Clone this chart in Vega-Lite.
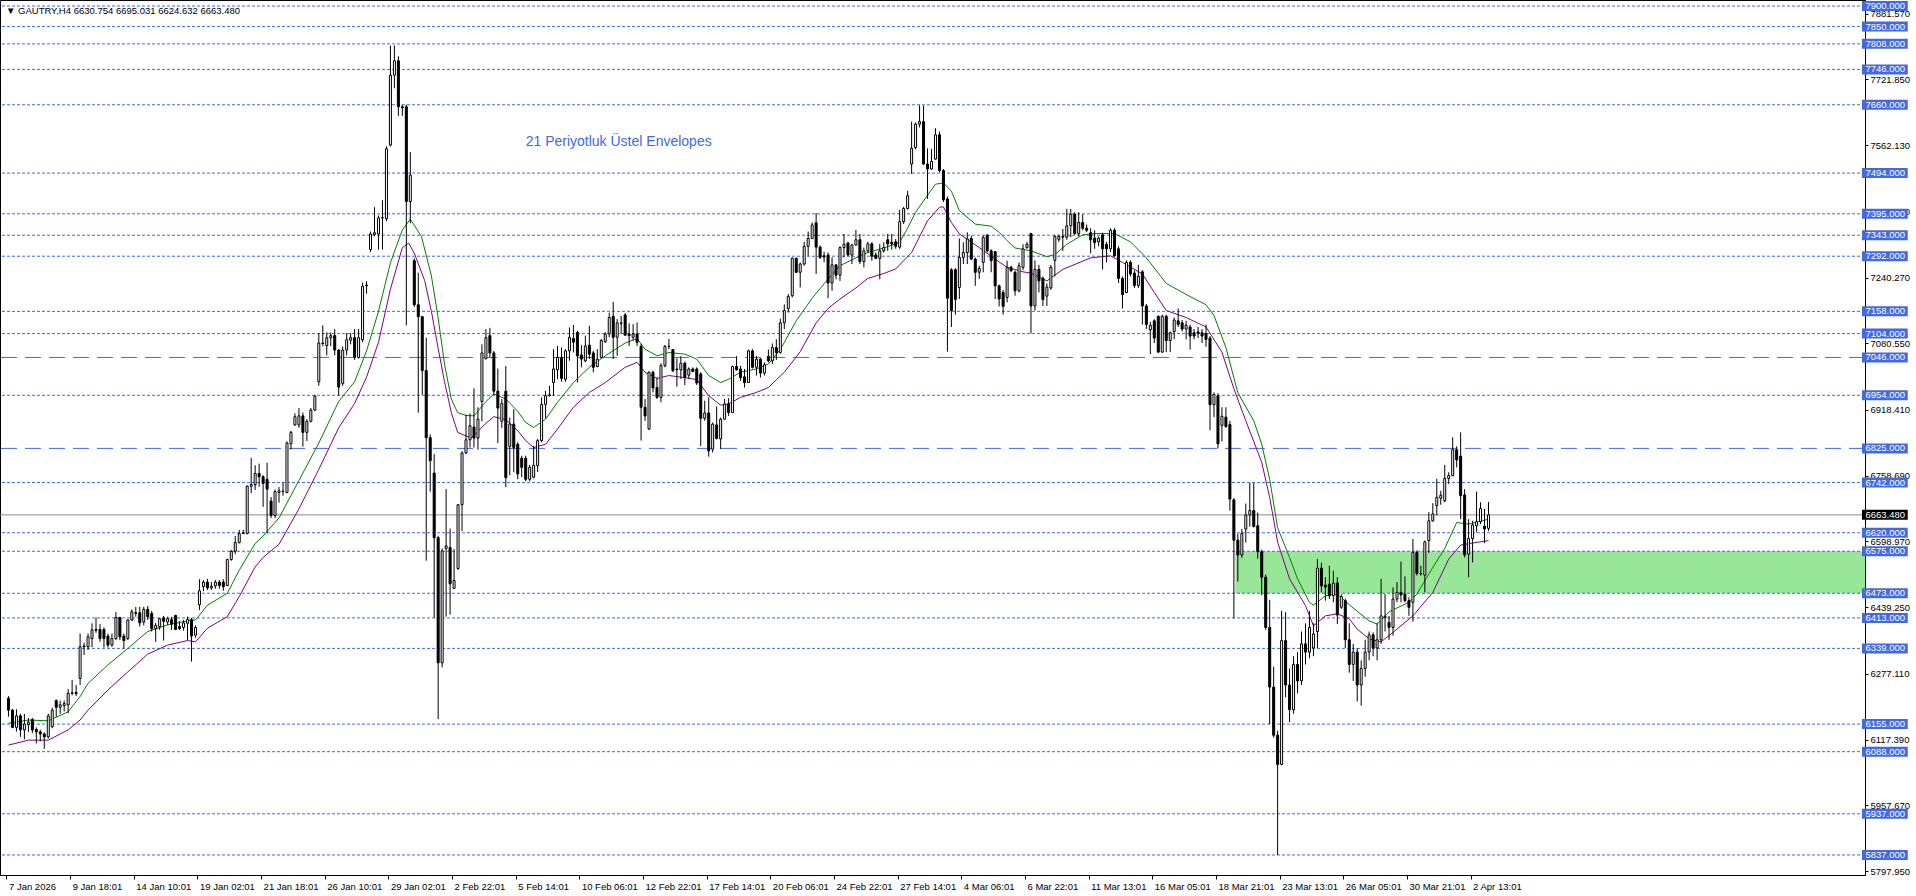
{
"$schema":"https://vega.github.io/schema/vega-lite/v6.json",
"width":1865,"height":875,
"autosize":{"type":"none"},
"padding":{"left":0,"top":0,"right":51,"bottom":21},
"background":"white",
"title":{"text":"▼ GAUTRY,H4  6630.754 6695.031 6624.632 6663.480","anchor":"start","frame":"group","offset":-15,"dx":6,"font":"Liberation Sans","fontSize":9.5,"fontWeight":"normal","color":"black"},
"config":{"view":{"stroke":"black","strokeWidth":1}},
"datasets":{
"zone":[{"i1":308.375,"i2":470,"p1":6473,"p2":6575}],
"levels":[{"p":7900},{"p":7850},{"p":7808},{"p":7746},{"p":7660},{"p":7494},{"p":7395},{"p":7343},{"p":7292},{"p":7158},{"p":7104},{"p":7046},{"p":6954},{"p":6825},{"p":6742},{"p":6620},{"p":6575},{"p":6473},{"p":6413},{"p":6339},{"p":6155},{"p":6088},{"p":5937},{"p":5837}],
"last":[{"p":6663.48}],
"note":[{"i":130,"p":7570,"t":"21 Periyotluk Üstel Envelopes"}],
"upper":[{"i":0,"v":6157},{"i":5,"v":6165},{"i":10,"v":6163},{"i":15,"v":6185},{"i":18,"v":6222},{"i":20,"v":6254},{"i":25,"v":6299},{"i":30,"v":6339},{"i":35,"v":6380},{"i":40,"v":6396},{"i":45,"v":6406},{"i":47,"v":6408},{"i":50,"v":6444},{"i":55,"v":6473},{"i":58,"v":6529},{"i":62,"v":6594},{"i":64,"v":6612},{"i":68,"v":6656},{"i":73,"v":6747},{"i":78,"v":6838},{"i":83,"v":6939},{"i":87,"v":6987},{"i":90,"v":7062},{"i":93,"v":7158},{"i":96,"v":7276},{"i":99,"v":7356},{"i":101,"v":7382},{"i":103.8,"v":7340},{"i":106.3,"v":7244},{"i":107.9,"v":7148},{"i":109.6,"v":7030},{"i":111.3,"v":6945},{"i":112.9,"v":6912},{"i":115,"v":6905},{"i":117,"v":6904},{"i":120,"v":6939},{"i":122,"v":6957},{"i":125,"v":6945},{"i":128,"v":6915},{"i":130,"v":6888},{"i":132,"v":6876},{"i":135,"v":6896},{"i":138,"v":6937},{"i":142,"v":6985},{"i":146,"v":7022},{"i":150,"v":7050},{"i":155,"v":7081},{"i":158,"v":7092},{"i":160,"v":7066},{"i":163,"v":7050},{"i":166,"v":7058},{"i":170,"v":7054},{"i":173,"v":7042},{"i":176,"v":7002},{"i":179,"v":6985},{"i":181,"v":6993},{"i":184,"v":7010},{"i":188,"v":7018},{"i":191,"v":7030},{"i":194,"v":7065},{"i":198,"v":7135},{"i":202,"v":7190},{"i":205,"v":7225},{"i":209,"v":7269},{"i":213,"v":7288},{"i":216,"v":7301},{"i":220,"v":7312},{"i":224,"v":7326},{"i":226,"v":7360},{"i":228,"v":7399},{"i":231,"v":7440},{"i":233,"v":7467},{"i":235,"v":7470},{"i":237,"v":7450},{"i":239,"v":7403},{"i":243,"v":7370},{"i":247,"v":7365},{"i":249,"v":7350},{"i":251,"v":7330},{"i":253,"v":7312},{"i":257,"v":7305},{"i":261,"v":7291},{"i":263,"v":7296},{"i":266,"v":7321},{"i":270,"v":7344},{"i":273,"v":7347},{"i":278,"v":7347},{"i":282,"v":7327},{"i":286,"v":7288},{"i":291,"v":7226},{"i":296,"v":7199},{"i":301,"v":7174},{"i":303,"v":7148},{"i":306,"v":7070},{"i":309,"v":6960},{"i":313,"v":6892},{"i":315,"v":6835},{"i":317,"v":6750},{"i":319,"v":6632},{"i":322,"v":6560},{"i":324,"v":6508},{"i":327,"v":6451},{"i":328,"v":6444},{"i":331,"v":6467},{"i":334,"v":6471},{"i":337,"v":6445},{"i":342,"v":6406},{"i":344,"v":6398},{"i":347,"v":6428},{"i":352,"v":6451},{"i":354,"v":6471},{"i":357,"v":6520},{"i":361,"v":6582},{"i":364,"v":6645},{"i":367,"v":6641},{"i":372,"v":6653}],
"lower":[{"i":0,"v":6104},{"i":5,"v":6116},{"i":10,"v":6116},{"i":15,"v":6141},{"i":18,"v":6165},{"i":20,"v":6189},{"i":25,"v":6238},{"i":30,"v":6282},{"i":35,"v":6325},{"i":40,"v":6347},{"i":45,"v":6358},{"i":47,"v":6355},{"i":50,"v":6388},{"i":55,"v":6416},{"i":58,"v":6465},{"i":62,"v":6537},{"i":64,"v":6560},{"i":68,"v":6592},{"i":73,"v":6678},{"i":78,"v":6774},{"i":83,"v":6875},{"i":87,"v":6934},{"i":90,"v":6998},{"i":93,"v":7083},{"i":96,"v":7212},{"i":99,"v":7313},{"i":100.6,"v":7324},{"i":102.1,"v":7297},{"i":104.6,"v":7233},{"i":106.3,"v":7158},{"i":107.9,"v":7073},{"i":109.6,"v":6987},{"i":111.3,"v":6912},{"i":112.9,"v":6864},{"i":116.3,"v":6850},{"i":120,"v":6886},{"i":122,"v":6902},{"i":125,"v":6895},{"i":128,"v":6868},{"i":130,"v":6844},{"i":132,"v":6827},{"i":135,"v":6835},{"i":138,"v":6872},{"i":142,"v":6925},{"i":146,"v":6961},{"i":150,"v":6985},{"i":155,"v":7022},{"i":158,"v":7034},{"i":160,"v":7010},{"i":163,"v":6995},{"i":166,"v":7002},{"i":170,"v":6997},{"i":173,"v":6992},{"i":176,"v":6953},{"i":179,"v":6930},{"i":181,"v":6933},{"i":184,"v":6949},{"i":188,"v":6961},{"i":191,"v":6973},{"i":195,"v":7010},{"i":199,"v":7060},{"i":203,"v":7130},{"i":206,"v":7165},{"i":209,"v":7188},{"i":213,"v":7215},{"i":216,"v":7238},{"i":220,"v":7250},{"i":223,"v":7261},{"i":227,"v":7301},{"i":231,"v":7378},{"i":234,"v":7411},{"i":235,"v":7412},{"i":237,"v":7374},{"i":239,"v":7346},{"i":244,"v":7313},{"i":248,"v":7285},{"i":251,"v":7265},{"i":255,"v":7254},{"i":257,"v":7251},{"i":261,"v":7232},{"i":265,"v":7260},{"i":272,"v":7288},{"i":277,"v":7293},{"i":280,"v":7277},{"i":285,"v":7249},{"i":288,"v":7204},{"i":291,"v":7160},{"i":296,"v":7143},{"i":301,"v":7120},{"i":305,"v":7059},{"i":308,"v":6970},{"i":311,"v":6892},{"i":315,"v":6791},{"i":317,"v":6706},{"i":319,"v":6597},{"i":322,"v":6508},{"i":326,"v":6443},{"i":328,"v":6394},{"i":331,"v":6418},{"i":334,"v":6423},{"i":337,"v":6411},{"i":339,"v":6386},{"i":342,"v":6362},{"i":345,"v":6355},{"i":348,"v":6378},{"i":353,"v":6418},{"i":358,"v":6475},{"i":362,"v":6556},{"i":365,"v":6590},{"i":368,"v":6595},{"i":372,"v":6601}],
"bars":[
{"i":0,"o":6218,"h":6223,"l":6173,"c":6189},{"i":1,"o":6189,"h":6192,"l":6145,"c":6147},{"i":2,"o":6147,"h":6191,"l":6137,"c":6175},{"i":3,"o":6175,"h":6180,"l":6124,"c":6141},{"i":4,"o":6141,"h":6180,"l":6118,"c":6155},{"i":5,"o":6154,"h":6170,"l":6136,"c":6160},{"i":6,"o":6166,"h":6170,"l":6133,"c":6141},{"i":7,"o":6142,"h":6147,"l":6108,"c":6136},{"i":8,"o":6136,"h":6141,"l":6113,"c":6131},{"i":9,"o":6131,"h":6135,"l":6095,"c":6124},
{"i":10,"o":6124,"h":6180,"l":6120,"c":6175},{"i":11,"o":6149,"h":6195,"l":6145,"c":6189},{"i":12,"o":6212,"h":6215,"l":6173,"c":6196},{"i":13,"o":6196,"h":6212,"l":6180,"c":6202},{"i":14,"o":6200,"h":6212,"l":6186,"c":6205},{"i":15,"o":6202,"h":6240,"l":6181,"c":6230},{"i":16,"o":6230,"h":6262,"l":6225,"c":6231},{"i":17,"o":6232,"h":6250,"l":6223,"c":6229},{"i":18,"o":6266,"h":6375,"l":6250,"c":6343},{"i":19,"o":6343,"h":6353,"l":6323,"c":6345},
{"i":20,"o":6343,"h":6375,"l":6335,"c":6367},{"i":21,"o":6363,"h":6400,"l":6342,"c":6384},{"i":22,"o":6383,"h":6414,"l":6377,"c":6385},{"i":23,"o":6385,"h":6398,"l":6355,"c":6363},{"i":24,"o":6385,"h":6390,"l":6341,"c":6363},{"i":25,"o":6369,"h":6375,"l":6341,"c":6347},{"i":26,"o":6347,"h":6375,"l":6343,"c":6363},{"i":27,"o":6363,"h":6427,"l":6359,"c":6414},{"i":28,"o":6414,"h":6416,"l":6359,"c":6367},{"i":29,"o":6369,"h":6375,"l":6339,"c":6358},
{"i":30,"o":6363,"h":6410,"l":6359,"c":6408},{"i":31,"o":6408,"h":6434,"l":6406,"c":6428},{"i":32,"o":6424,"h":6440,"l":6416,"c":6426},{"i":33,"o":6426,"h":6440,"l":6392,"c":6401},{"i":34,"o":6403,"h":6440,"l":6395,"c":6434},{"i":35,"o":6434,"h":6442,"l":6408,"c":6416},{"i":36,"o":6424,"h":6430,"l":6380,"c":6387},{"i":37,"o":6387,"h":6401,"l":6355,"c":6395},{"i":38,"o":6392,"h":6413,"l":6384,"c":6411},{"i":39,"o":6413,"h":6418,"l":6358,"c":6405},
{"i":40,"o":6403,"h":6416,"l":6396,"c":6411},{"i":41,"o":6409,"h":6416,"l":6384,"c":6398},{"i":42,"o":6419,"h":6421,"l":6384,"c":6385},{"i":43,"o":6392,"h":6405,"l":6384,"c":6387},{"i":44,"o":6390,"h":6408,"l":6382,"c":6401},{"i":45,"o":6400,"h":6416,"l":6359,"c":6409},{"i":46,"o":6409,"h":6413,"l":6307,"c":6369},{"i":47,"o":6371,"h":6395,"l":6365,"c":6390},{"i":48,"o":6445,"h":6507,"l":6432,"c":6479},{"i":49,"o":6489,"h":6505,"l":6478,"c":6500},
{"i":50,"o":6500,"h":6508,"l":6481,"c":6486},{"i":51,"o":6486,"h":6500,"l":6481,"c":6490},{"i":52,"o":6491,"h":6505,"l":6484,"c":6500},{"i":53,"o":6500,"h":6505,"l":6484,"c":6492},{"i":54,"o":6500,"h":6507,"l":6479,"c":6489},{"i":55,"o":6492,"h":6557,"l":6490,"c":6555},{"i":56,"o":6555,"h":6578,"l":6552,"c":6575},{"i":57,"o":6575,"h":6612,"l":6568,"c":6596},{"i":58,"o":6596,"h":6627,"l":6594,"c":6618},{"i":59,"o":6618,"h":6627,"l":6617,"c":6620},
{"i":60,"o":6618,"h":6735,"l":6616,"c":6733},{"i":61,"o":6733,"h":6802,"l":6716,"c":6737},{"i":62,"o":6737,"h":6784,"l":6724,"c":6764},{"i":63,"o":6764,"h":6788,"l":6732,"c":6756},{"i":64,"o":6756,"h":6760,"l":6683,"c":6740},{"i":65,"o":6750,"h":6790,"l":6619,"c":6726},{"i":66,"o":6697,"h":6707,"l":6656,"c":6662},{"i":67,"o":6662,"h":6725,"l":6656,"c":6720},{"i":68,"o":6718,"h":6731,"l":6693,"c":6722},{"i":69,"o":6720,"h":6742,"l":6710,"c":6721},
{"i":70,"o":6718,"h":6842,"l":6716,"c":6838},{"i":71,"o":6836,"h":6868,"l":6822,"c":6864},{"i":72,"o":6882,"h":6910,"l":6880,"c":6902},{"i":73,"o":6882,"h":6923,"l":6875,"c":6904},{"i":74,"o":6904,"h":6912,"l":6829,"c":6864},{"i":75,"o":6864,"h":6896,"l":6843,"c":6891},{"i":76,"o":6891,"h":6923,"l":6888,"c":6918},{"i":77,"o":6918,"h":6955,"l":6916,"c":6952},{"i":78,"o":6987,"h":7105,"l":6977,"c":7081},{"i":79,"o":7080,"h":7124,"l":7073,"c":7081},
{"i":80,"o":7075,"h":7107,"l":7051,"c":7094},{"i":81,"o":7094,"h":7107,"l":7073,"c":7099},{"i":82,"o":7099,"h":7115,"l":7051,"c":7064},{"i":83,"o":7064,"h":7066,"l":6953,"c":6974},{"i":84,"o":6983,"h":7073,"l":6977,"c":7064},{"i":85,"o":7064,"h":7105,"l":7051,"c":7089},{"i":86,"o":7088,"h":7105,"l":7078,"c":7094},{"i":87,"o":7094,"h":7115,"l":7040,"c":7046},{"i":88,"o":7046,"h":7115,"l":7043,"c":7094},{"i":89,"o":7089,"h":7228,"l":7083,"c":7219},
{"i":90,"o":7220,"h":7231,"l":7201,"c":7222},{"i":91,"o":7308,"h":7352,"l":7302,"c":7346},{"i":92,"o":7345,"h":7411,"l":7340,"c":7349},{"i":93,"o":7346,"h":7391,"l":7308,"c":7385},{"i":94,"o":7385,"h":7428,"l":7308,"c":7386},{"i":95,"o":7383,"h":7559,"l":7377,"c":7553},{"i":96,"o":7562,"h":7804,"l":7559,"c":7732},{"i":97,"o":7732,"h":7804,"l":7700,"c":7767},{"i":98,"o":7767,"h":7778,"l":7633,"c":7655},{"i":99,"o":7655,"h":7660,"l":7633,"c":7653},
{"i":100,"o":7655,"h":7660,"l":7124,"c":7425},{"i":101,"o":7425,"h":7545,"l":7372,"c":7489},{"i":102,"o":7281,"h":7287,"l":7169,"c":7174},{"i":103,"o":7174,"h":7252,"l":6912,"c":7145},{"i":104,"o":7145,"h":7147,"l":6955,"c":7014},{"i":105,"o":7014,"h":7094,"l":6552,"c":6851},{"i":106,"o":6851,"h":6859,"l":6720,"c":6795},{"i":107,"o":6765,"h":6811,"l":6413,"c":6608},{"i":108,"o":6608,"h":6613,"l":6167,"c":6304},{"i":109,"o":6304,"h":6582,"l":6293,"c":6576},
{"i":110,"o":6582,"h":6726,"l":6416,"c":6588},{"i":111,"o":6584,"h":6630,"l":6421,"c":6496},{"i":112,"o":6485,"h":6580,"l":6483,"c":6504},{"i":113,"o":6533,"h":6690,"l":6530,"c":6688},{"i":114,"o":6688,"h":6818,"l":6624,"c":6814},{"i":115,"o":6814,"h":6907,"l":6811,"c":6846},{"i":116,"o":6846,"h":6910,"l":6827,"c":6880},{"i":117,"o":6877,"h":6971,"l":6827,"c":6850},{"i":118,"o":6850,"h":6925,"l":6822,"c":6896},{"i":119,"o":6939,"h":7078,"l":6891,"c":7057},
{"i":120,"o":7043,"h":7115,"l":7041,"c":7094},{"i":121,"o":7099,"h":7118,"l":7046,"c":7057},{"i":122,"o":7057,"h":7062,"l":6955,"c":6964},{"i":123,"o":6964,"h":7019,"l":6838,"c":6923},{"i":124,"o":6891,"h":6945,"l":6875,"c":6934},{"i":125,"o":6964,"h":7025,"l":6731,"c":6754},{"i":126,"o":6830,"h":6900,"l":6760,"c":6884},{"i":127,"o":6884,"h":6920,"l":6767,"c":6827},{"i":128,"o":6835,"h":6840,"l":6750,"c":6763},{"i":129,"o":6801,"h":6807,"l":6755,"c":6779},
{"i":130,"o":6801,"h":6807,"l":6745,"c":6750},{"i":131,"o":6750,"h":6785,"l":6745,"c":6779},{"i":132,"o":6755,"h":6831,"l":6752,"c":6784},{"i":133,"o":6783,"h":6848,"l":6768,"c":6844},{"i":134,"o":6844,"h":6949,"l":6840,"c":6932},{"i":135,"o":6932,"h":6965,"l":6898,"c":6953},{"i":136,"o":6953,"h":6977,"l":6951,"c":6955},{"i":137,"o":6985,"h":7066,"l":6953,"c":7018},{"i":138,"o":7016,"h":7074,"l":6993,"c":7046},{"i":139,"o":7046,"h":7070,"l":6987,"c":6995},
{"i":140,"o":6993,"h":7066,"l":6987,"c":7062},{"i":141,"o":7062,"h":7119,"l":7038,"c":7095},{"i":142,"o":7092,"h":7125,"l":7058,"c":7083},{"i":143,"o":7107,"h":7111,"l":6985,"c":7050},{"i":144,"o":7052,"h":7076,"l":7022,"c":7042},{"i":145,"o":7038,"h":7099,"l":7034,"c":7074},{"i":146,"o":7076,"h":7123,"l":7042,"c":7054},{"i":147,"o":7057,"h":7062,"l":7010,"c":7022},{"i":148,"o":7024,"h":7066,"l":7022,"c":7042},{"i":149,"o":7046,"h":7091,"l":7044,"c":7087},
{"i":150,"o":7085,"h":7107,"l":7081,"c":7103},{"i":151,"o":7103,"h":7155,"l":7095,"c":7143},{"i":152,"o":7146,"h":7181,"l":7042,"c":7095},{"i":153,"o":7095,"h":7139,"l":7050,"c":7130},{"i":154,"o":7129,"h":7147,"l":7103,"c":7130},{"i":155,"o":7149,"h":7154,"l":7099,"c":7100},{"i":156,"o":7103,"h":7129,"l":7074,"c":7099},{"i":157,"o":7095,"h":7127,"l":7087,"c":7103},{"i":158,"o":7103,"h":7131,"l":7074,"c":7083},{"i":159,"o":7073,"h":7079,"l":6844,"c":6925},
{"i":160,"o":6925,"h":6945,"l":6892,"c":6904},{"i":161,"o":6872,"h":7012,"l":6870,"c":7010},{"i":162,"o":7010,"h":7014,"l":6961,"c":6972},{"i":163,"o":6973,"h":6997,"l":6945,"c":6949},{"i":164,"o":6949,"h":7032,"l":6937,"c":7026},{"i":165,"o":7026,"h":7076,"l":7022,"c":7073},{"i":166,"o":7073,"h":7091,"l":7066,"c":7073},{"i":167,"o":7065,"h":7066,"l":7010,"c":7014},{"i":168,"o":7018,"h":7044,"l":6975,"c":7016},{"i":169,"o":7016,"h":7049,"l":6994,"c":7032},
{"i":170,"o":7032,"h":7036,"l":6979,"c":6997},{"i":171,"o":7003,"h":7022,"l":6994,"c":7018},{"i":172,"o":7018,"h":7022,"l":7010,"c":7012},{"i":173,"o":7018,"h":7022,"l":6979,"c":6984},{"i":174,"o":7006,"h":7010,"l":6831,"c":6898},{"i":175,"o":6898,"h":6941,"l":6892,"c":6911},{"i":176,"o":6911,"h":6949,"l":6805,"c":6819},{"i":177,"o":6823,"h":6888,"l":6815,"c":6884},{"i":178,"o":6882,"h":6927,"l":6847,"c":6849},{"i":179,"o":6848,"h":6900,"l":6823,"c":6896},
{"i":180,"o":6896,"h":6945,"l":6895,"c":6933},{"i":181,"o":6933,"h":6947,"l":6904,"c":6912},{"i":182,"o":6912,"h":7026,"l":6911,"c":7024},{"i":183,"o":7024,"h":7049,"l":7014,"c":7016},{"i":184,"o":7018,"h":7026,"l":6989,"c":6997},{"i":185,"o":6999,"h":7018,"l":6973,"c":6985},{"i":186,"o":6985,"h":7065,"l":6984,"c":7062},{"i":187,"o":7062,"h":7066,"l":7019,"c":7022},{"i":188,"o":7022,"h":7050,"l":7002,"c":7042},{"i":189,"o":7042,"h":7044,"l":6997,"c":7008},
{"i":190,"o":7008,"h":7034,"l":7002,"c":7028},{"i":191,"o":7049,"h":7065,"l":7034,"c":7038},{"i":192,"o":7038,"h":7080,"l":7030,"c":7070},{"i":193,"o":7070,"h":7090,"l":7040,"c":7058},{"i":194,"o":7058,"h":7140,"l":7055,"c":7130},{"i":195,"o":7130,"h":7175,"l":7115,"c":7160},{"i":196,"o":7165,"h":7200,"l":7155,"c":7194},{"i":197,"o":7196,"h":7289,"l":7192,"c":7287},{"i":198,"o":7287,"h":7289,"l":7251,"c":7253},{"i":199,"o":7253,"h":7277,"l":7216,"c":7273},
{"i":200,"o":7273,"h":7327,"l":7269,"c":7316},{"i":201,"o":7316,"h":7352,"l":7293,"c":7335},{"i":202,"o":7335,"h":7374,"l":7334,"c":7368},{"i":203,"o":7373,"h":7397,"l":7249,"c":7314},{"i":204,"o":7314,"h":7318,"l":7285,"c":7289},{"i":205,"o":7293,"h":7303,"l":7277,"c":7290},{"i":206,"o":7295,"h":7301,"l":7190,"c":7227},{"i":207,"o":7227,"h":7289,"l":7208,"c":7271},{"i":208,"o":7271,"h":7273,"l":7236,"c":7246},{"i":209,"o":7246,"h":7316,"l":7232,"c":7313},
{"i":210,"o":7313,"h":7346,"l":7289,"c":7321},{"i":211,"o":7324,"h":7327,"l":7292,"c":7295},{"i":212,"o":7295,"h":7322,"l":7273,"c":7319},{"i":213,"o":7319,"h":7356,"l":7318,"c":7332},{"i":214,"o":7332,"h":7346,"l":7273,"c":7279},{"i":215,"o":7279,"h":7313,"l":7265,"c":7305},{"i":216,"o":7305,"h":7327,"l":7300,"c":7322},{"i":217,"o":7322,"h":7326,"l":7281,"c":7292},{"i":218,"o":7295,"h":7301,"l":7285,"c":7287},{"i":219,"o":7287,"h":7322,"l":7236,"c":7305},
{"i":220,"o":7305,"h":7326,"l":7301,"c":7313},{"i":221,"o":7332,"h":7346,"l":7305,"c":7322},{"i":222,"o":7326,"h":7346,"l":7308,"c":7322},{"i":223,"o":7327,"h":7334,"l":7310,"c":7316},{"i":224,"o":7314,"h":7405,"l":7310,"c":7376},{"i":225,"o":7376,"h":7412,"l":7370,"c":7408},{"i":226,"o":7408,"h":7451,"l":7405,"c":7439},{"i":227,"o":7516,"h":7619,"l":7492,"c":7554},{"i":228,"o":7556,"h":7617,"l":7552,"c":7613},{"i":229,"o":7613,"h":7659,"l":7605,"c":7619},
{"i":230,"o":7619,"h":7658,"l":7514,"c":7516},{"i":231,"o":7516,"h":7554,"l":7431,"c":7504},{"i":232,"o":7504,"h":7553,"l":7502,"c":7522},{"i":233,"o":7528,"h":7603,"l":7526,"c":7587},{"i":234,"o":7587,"h":7595,"l":7496,"c":7500},{"i":235,"o":7500,"h":7504,"l":7424,"c":7429},{"i":236,"o":7431,"h":7437,"l":7060,"c":7190},{"i":237,"o":7259,"h":7263,"l":7120,"c":7160},{"i":238,"o":7259,"h":7263,"l":7150,"c":7187},{"i":239,"o":7216,"h":7335,"l":7188,"c":7289},
{"i":240,"o":7289,"h":7326,"l":7273,"c":7301},{"i":241,"o":7301,"h":7350,"l":7273,"c":7334},{"i":242,"o":7335,"h":7342,"l":7283,"c":7285},{"i":243,"o":7285,"h":7289,"l":7220,"c":7253},{"i":244,"o":7253,"h":7269,"l":7237,"c":7262},{"i":245,"o":7277,"h":7342,"l":7253,"c":7338},{"i":246,"o":7343,"h":7346,"l":7301,"c":7305},{"i":247,"o":7305,"h":7309,"l":7253,"c":7281},{"i":248,"o":7303,"h":7305,"l":7188,"c":7220},{"i":249,"o":7220,"h":7223,"l":7170,"c":7188},
{"i":250,"o":7204,"h":7210,"l":7150,"c":7170},{"i":251,"o":7192,"h":7281,"l":7180,"c":7265},{"i":252,"o":7265,"h":7269,"l":7253,"c":7257},{"i":253,"o":7253,"h":7257,"l":7196,"c":7208},{"i":254,"o":7208,"h":7277,"l":7204,"c":7269},{"i":255,"o":7265,"h":7321,"l":7258,"c":7310},{"i":256,"o":7313,"h":7327,"l":7310,"c":7321},{"i":257,"o":7347,"h":7349,"l":7104,"c":7171},{"i":258,"o":7171,"h":7282,"l":7160,"c":7260},{"i":259,"o":7260,"h":7271,"l":7204,"c":7232},
{"i":260,"o":7238,"h":7243,"l":7171,"c":7187},{"i":261,"o":7195,"h":7226,"l":7171,"c":7217},{"i":262,"o":7215,"h":7271,"l":7210,"c":7265},{"i":263,"o":7282,"h":7344,"l":7243,"c":7340},{"i":264,"o":7333,"h":7344,"l":7327,"c":7340},{"i":265,"o":7338,"h":7358,"l":7305,"c":7340},{"i":266,"o":7338,"h":7407,"l":7332,"c":7366},{"i":267,"o":7366,"h":7407,"l":7338,"c":7394},{"i":268,"o":7394,"h":7399,"l":7344,"c":7347},{"i":269,"o":7347,"h":7399,"l":7340,"c":7374},
{"i":270,"o":7374,"h":7394,"l":7355,"c":7360},{"i":271,"o":7360,"h":7369,"l":7351,"c":7355},{"i":272,"o":7349,"h":7360,"l":7299,"c":7332},{"i":273,"o":7336,"h":7355,"l":7310,"c":7325},{"i":274,"o":7327,"h":7340,"l":7316,"c":7336},{"i":275,"o":7344,"h":7349,"l":7260,"c":7310},{"i":276,"o":7321,"h":7327,"l":7277,"c":7310},{"i":277,"o":7310,"h":7360,"l":7302,"c":7355},{"i":278,"o":7355,"h":7360,"l":7291,"c":7293},{"i":279,"o":7310,"h":7316,"l":7227,"c":7238},
{"i":280,"o":7238,"h":7243,"l":7165,"c":7199},{"i":281,"o":7204,"h":7282,"l":7202,"c":7277},{"i":282,"o":7277,"h":7282,"l":7243,"c":7249},{"i":283,"o":7251,"h":7258,"l":7215,"c":7221},{"i":284,"o":7221,"h":7271,"l":7215,"c":7243},{"i":285,"o":7254,"h":7258,"l":7126,"c":7171},{"i":286,"o":7171,"h":7176,"l":7115,"c":7126},{"i":287,"o":7113,"h":7132,"l":7054,"c":7124},{"i":288,"o":7135,"h":7139,"l":7081,"c":7093},{"i":289,"o":7146,"h":7148,"l":7057,"c":7059},
{"i":290,"o":7059,"h":7150,"l":7057,"c":7146},{"i":291,"o":7146,"h":7150,"l":7059,"c":7087},{"i":292,"o":7087,"h":7109,"l":7059,"c":7106},{"i":293,"o":7109,"h":7143,"l":7090,"c":7137},{"i":294,"o":7135,"h":7165,"l":7120,"c":7126},{"i":295,"o":7130,"h":7137,"l":7109,"c":7115},{"i":296,"o":7115,"h":7135,"l":7090,"c":7124},{"i":297,"o":7120,"h":7126,"l":7065,"c":7098},{"i":298,"o":7106,"h":7115,"l":7090,"c":7098},{"i":299,"o":7108,"h":7120,"l":7093,"c":7104},
{"i":300,"o":7106,"h":7115,"l":7081,"c":7098},{"i":301,"o":7104,"h":7126,"l":7072,"c":7090},{"i":302,"o":7093,"h":7098,"l":6869,"c":6931},{"i":303,"o":6931,"h":6961,"l":6901,"c":6956},{"i":304,"o":6953,"h":6959,"l":6825,"c":6836},{"i":305,"o":6881,"h":6925,"l":6842,"c":6903},{"i":306,"o":6901,"h":6925,"l":6875,"c":6878},{"i":307,"o":6883,"h":6892,"l":6674,"c":6702},{"i":308,"o":6700,"h":6704,"l":6412,"c":6602},{"i":309,"o":6602,"h":6618,"l":6501,"c":6566},
{"i":310,"o":6566,"h":6629,"l":6559,"c":6618},{"i":311,"o":6629,"h":6691,"l":6596,"c":6663},{"i":312,"o":6663,"h":6741,"l":6635,"c":6674},{"i":313,"o":6674,"h":6741,"l":6633,"c":6635},{"i":314,"o":6637,"h":6669,"l":6557,"c":6574},{"i":315,"o":6574,"h":6579,"l":6468,"c":6512},{"i":316,"o":6512,"h":6518,"l":6384,"c":6390},{"i":317,"o":6390,"h":6457,"l":6155,"c":6245},{"i":318,"o":6245,"h":6295,"l":6122,"c":6128},{"i":319,"o":6128,"h":6139,"l":5837,"c":6057},
{"i":320,"o":6057,"h":6430,"l":6055,"c":6358},{"i":321,"o":6358,"h":6427,"l":6220,"c":6250},{"i":322,"o":6250,"h":6290,"l":6160,"c":6190},{"i":323,"o":6190,"h":6320,"l":6180,"c":6300},{"i":324,"o":6300,"h":6330,"l":6230,"c":6260},{"i":325,"o":6260,"h":6380,"l":6250,"c":6350},{"i":326,"o":6350,"h":6400,"l":6300,"c":6330},{"i":327,"o":6330,"h":6430,"l":6315,"c":6390},{"i":328,"o":6340,"h":6400,"l":6320,"c":6374},{"i":329,"o":6380,"h":6556,"l":6340,"c":6534},
{"i":330,"o":6534,"h":6547,"l":6475,"c":6491},{"i":331,"o":6493,"h":6512,"l":6455,"c":6488},{"i":332,"o":6495,"h":6540,"l":6459,"c":6467},{"i":333,"o":6467,"h":6528,"l":6451,"c":6498},{"i":334,"o":6498,"h":6512,"l":6398,"c":6420},{"i":335,"o":6439,"h":6471,"l":6435,"c":6465},{"i":336,"o":6455,"h":6460,"l":6340,"c":6360},{"i":337,"o":6360,"h":6400,"l":6280,"c":6300},{"i":338,"o":6300,"h":6350,"l":6260,"c":6330},{"i":339,"o":6330,"h":6340,"l":6210,"c":6250},
{"i":340,"o":6250,"h":6310,"l":6200,"c":6290},{"i":341,"o":6290,"h":6360,"l":6270,"c":6330},{"i":342,"o":6330,"h":6380,"l":6310,"c":6372},{"i":343,"o":6372,"h":6378,"l":6320,"c":6340},{"i":344,"o":6340,"h":6400,"l":6310,"c":6360},{"i":345,"o":6360,"h":6508,"l":6350,"c":6418},{"i":346,"o":6414,"h":6471,"l":6380,"c":6417},{"i":347,"o":6402,"h":6418,"l":6360,"c":6390},{"i":348,"o":6390,"h":6487,"l":6370,"c":6459},{"i":349,"o":6459,"h":6500,"l":6451,"c":6475},
{"i":350,"o":6475,"h":6550,"l":6451,"c":6469},{"i":351,"o":6471,"h":6514,"l":6451,"c":6455},{"i":352,"o":6455,"h":6463,"l":6418,"c":6439},{"i":353,"o":6451,"h":6605,"l":6404,"c":6572},{"i":354,"o":6572,"h":6577,"l":6516,"c":6521},{"i":355,"o":6521,"h":6540,"l":6516,"c":6520},{"i":356,"o":6517,"h":6601,"l":6475,"c":6598},{"i":357,"o":6601,"h":6670,"l":6571,"c":6649},{"i":358,"o":6649,"h":6692,"l":6647,"c":6666},{"i":359,"o":6686,"h":6751,"l":6662,"c":6706},
{"i":360,"o":6704,"h":6722,"l":6688,"c":6711},{"i":361,"o":6698,"h":6785,"l":6694,"c":6752},{"i":362,"o":6752,"h":6767,"l":6738,"c":6759},{"i":363,"o":6759,"h":6852,"l":6757,"c":6822},{"i":364,"o":6822,"h":6830,"l":6779,"c":6797},{"i":365,"o":6806,"h":6864,"l":6653,"c":6710},{"i":366,"o":6712,"h":6726,"l":6560,"c":6566},{"i":367,"o":6568,"h":6653,"l":6512,"c":6606},{"i":368,"o":6606,"h":6649,"l":6548,"c":6639},{"i":369,"o":6637,"h":6720,"l":6621,"c":6647},
{"i":370,"o":6647,"h":6694,"l":6641,"c":6679},{"i":371,"o":6636,"h":6678,"l":6595,"c":6629},{"i":372,"o":6630.754,"h":6695.031,"l":6624.632,"c":6663.48}
]
},
"layer":[
{"data":{"name":"zone"},
 "mark":{"type":"rect","color":"#98E698","clip":true},
 "encoding":{
  "x":{"field":"i1","type":"quantitative","title":null,"scale":{"domain":[-0.875,465.375],"nice":false,"zero":false},
   "axis":{"orient":"bottom","title":null,"grid":false,"values":[-0.5,15.5,31.5,47.5,63.5,79.5,95.5,111.5,127.5,143.5,159.5,175.5,191.5,207.5,223.5,239.5,255.5,271.5,287.5,303.5,319.5,335.5,351.5,367.5],
   "labelExpr":"['7 Jan 2026','9 Jan 18:01','14 Jan 10:01','19 Jan 02:01','21 Jan 18:01','26 Jan 10:01','29 Jan 02:01','2 Feb 22:01','5 Feb 14:01','10 Feb 06:01','12 Feb 22:01','17 Feb 14:01','20 Feb 06:01','24 Feb 22:01','27 Feb 14:01','4 Mar 06:01','6 Mar 22:01','11 Mar 13:01','16 Mar 05:01','18 Mar 21:01','23 Mar 13:01','26 Mar 05:01','30 Mar 21:01','2 Apr 13:01'][round((datum.value+0.5)/16)]",
   "tickSize":4,"labelAlign":"left","labelBaseline":"top","labelPadding":2,"labelOffset":2,"labelFont":"Liberation Sans","labelFontSize":9.5,"labelColor":"black","domainColor":"black","tickColor":"black","labelOverlap":false,"labelFlush":false,"labelBound":false}},
  "x2":{"field":"i2"},
  "y":{"field":"p1","type":"quantitative","title":null,"scale":{"domain":[5788.35,7914.6],"nice":false,"zero":false},
   "axis":{"orient":"right","title":null,"grid":false,"values":[5797.95,5877.81,5957.67,6037.53,6117.39,6197.25,6277.11,6356.97,6439.25,6519.11,6598.97,6678.83,6758.69,6838.55,6918.41,7000.69,7080.55,7160.41,7240.27,7320.13,7399.99,7479.85,7562.13,7641.99,7721.85,7801.71,7881.57],
   "format":".3f","tickSize":3,"labelAlign":"left","labelBaseline":"middle","labelPadding":2,"labelFont":"Liberation Sans","labelFontSize":9.5,"labelColor":"black","domainColor":"black","tickColor":"black","labelOverlap":false,"labelFlush":false,"labelBound":false}},
  "y2":{"field":"p2"}
 }},
{"data":{"name":"levels"},
 "transform":[{"filter":{"not":{"field":"p","oneOf":[7046,6825]}}}],
 "mark":{"type":"rule","color":"#4169E1","strokeWidth":1,"strokeDash":[3,2]},
 "encoding":{"y":{"field":"p","type":"quantitative","title":null,"scale":{"domain":[5788.35,7914.6],"nice":false,"zero":false}}}},
{"data":{"name":"levels"},
 "transform":[{"filter":{"field":"p","oneOf":[7046,6825]}}],
 "mark":{"type":"rule","color":"#4169E1","strokeWidth":1,"strokeDash":[16,8]},
 "encoding":{"y":{"field":"p","type":"quantitative","title":null,"scale":{"domain":[5788.35,7914.6],"nice":false,"zero":false}}}},
{"data":{"name":"last"},
 "mark":{"type":"rule","color":"#8c8c8c","strokeWidth":1},
 "encoding":{"y":{"field":"p","type":"quantitative","title":null,"scale":{"domain":[5788.35,7914.6],"nice":false,"zero":false}}}},
{"data":{"name":"upper"},
 "mark":{"type":"line","color":"#008000","strokeWidth":1,"clip":true},
 "encoding":{"x":{"field":"i","type":"quantitative","title":null,"scale":{"domain":[-0.875,465.375],"nice":false,"zero":false}},
  "y":{"field":"v","type":"quantitative","title":null,"scale":{"domain":[5788.35,7914.6],"nice":false,"zero":false}}}},
{"data":{"name":"lower"},
 "mark":{"type":"line","color":"#800080","strokeWidth":1,"clip":true},
 "encoding":{"x":{"field":"i","type":"quantitative","title":null,"scale":{"domain":[-0.875,465.375],"nice":false,"zero":false}},
  "y":{"field":"v","type":"quantitative","title":null,"scale":{"domain":[5788.35,7914.6],"nice":false,"zero":false}}}},
{"data":{"name":"bars"},
 "mark":{"type":"rule","color":"black","strokeWidth":1},
 "encoding":{"x":{"field":"i","type":"quantitative","title":null,"scale":{"domain":[-0.875,465.375],"nice":false,"zero":false}},
  "y":{"field":"l","type":"quantitative","title":null,"scale":{"domain":[5788.35,7914.6],"nice":false,"zero":false}},
  "y2":{"field":"h"}}},
{"data":{"name":"bars"},
 "mark":{"type":"bar","width":2,"stroke":"black","strokeWidth":1},
 "encoding":{"x":{"field":"i","type":"quantitative","title":null,"scale":{"domain":[-0.875,465.375],"nice":false,"zero":false}},
  "y":{"field":"o","type":"quantitative","title":null,"scale":{"domain":[5788.35,7914.6],"nice":false,"zero":false}},
  "y2":{"field":"c"},
  "fill":{"condition":{"test":"datum.c >= datum.o","value":"#ffffff"},"value":"#000000"}}},
{"data":{"name":"note"},
 "mark":{"type":"text","align":"left","baseline":"middle","color":"#4169E1","font":"Liberation Sans","fontSize":14},
 "encoding":{"x":{"field":"i","type":"quantitative","title":null,"scale":{"domain":[-0.875,465.375],"nice":false,"zero":false}},
  "y":{"field":"p","type":"quantitative","title":null,"scale":{"domain":[5788.35,7914.6],"nice":false,"zero":false}},
  "text":{"field":"t"}}},
{"data":{"name":"levels"},
 "mark":{"type":"rule","color":"#4169E1","strokeWidth":10,"strokeCap":"butt"},
 "encoding":{"x":{"datum":465.875,"type":"quantitative","title":null,"scale":{"domain":[-0.875,465.375],"nice":false,"zero":false}},
  "x2":{"datum":477.375},
  "y":{"field":"p","type":"quantitative","title":null,"scale":{"domain":[5788.35,7914.6],"nice":false,"zero":false}}}},
{"data":{"name":"levels"},
 "mark":{"type":"text","align":"left","baseline":"middle","color":"white","font":"Liberation Sans","fontSize":9.5},
 "encoding":{"x":{"datum":466.75,"type":"quantitative","title":null,"scale":{"domain":[-0.875,465.375],"nice":false,"zero":false}},
  "y":{"field":"p","type":"quantitative","title":null,"scale":{"domain":[5788.35,7914.6],"nice":false,"zero":false}},
  "text":{"field":"p","type":"quantitative","format":".3f"}}},
{"data":{"name":"last"},
 "mark":{"type":"rule","color":"black","strokeWidth":10,"strokeCap":"butt"},
 "encoding":{"x":{"datum":465.875,"type":"quantitative","title":null,"scale":{"domain":[-0.875,465.375],"nice":false,"zero":false}},
  "x2":{"datum":477.375},
  "y":{"field":"p","type":"quantitative","title":null,"scale":{"domain":[5788.35,7914.6],"nice":false,"zero":false}}}},
{"data":{"name":"last"},
 "mark":{"type":"text","align":"left","baseline":"middle","color":"white","font":"Liberation Sans","fontSize":9.5},
 "encoding":{"x":{"datum":466.75,"type":"quantitative","title":null,"scale":{"domain":[-0.875,465.375],"nice":false,"zero":false}},
  "y":{"field":"p","type":"quantitative","title":null,"scale":{"domain":[5788.35,7914.6],"nice":false,"zero":false}},
  "text":{"field":"p","type":"quantitative","format":".3f"}}}
]
}
